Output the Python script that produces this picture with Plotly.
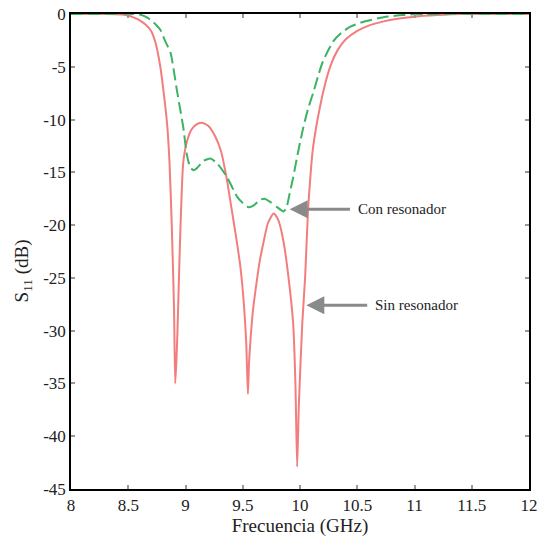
import plotly.graph_objects as go

# Sin resonador (red, solid)
red_f = [8.0, 8.3, 8.45, 8.5, 8.55, 8.6, 8.65, 8.7, 8.74, 8.78, 8.81, 8.84, 8.86, 8.88, 8.90, 8.91,
         8.92, 8.93, 8.95, 8.98, 9.01, 9.05, 9.09, 9.14, 9.2, 9.26, 9.31, 9.36, 9.40, 9.44, 9.48, 9.51,
         9.53, 9.545, 9.555, 9.57, 9.59, 9.62, 9.65, 9.68, 9.72, 9.77, 9.81, 9.855, 9.9, 9.94, 9.96,
         9.975, 9.99, 10.02, 10.045, 10.07, 10.09, 10.11, 10.14, 10.18, 10.22, 10.27, 10.33, 10.4,
         10.5, 10.6, 10.73, 10.85, 11.0, 11.2, 11.4, 12.0]
red_db = [0, 0, -0.05, -0.15, -0.35, -0.6, -1.0, -1.6, -2.8, -5.0, -7.5, -10.5, -14.0, -20.0, -28.0,
          -35.0, -33.0, -30.0, -22.3, -14.1, -12.2, -11.0, -10.5, -10.3, -10.6, -11.6, -13.0, -15.6,
          -18.3, -21.0, -24.0, -27.5, -31.0, -36.0, -33.0, -30.5, -28.0, -25.5, -23.3, -21.7, -19.8,
          -18.9, -19.5, -21.5, -25.0, -29.3, -35.0, -42.9, -37.0, -29.3, -24.9, -18.6, -15.5, -13.0,
          -10.8, -8.5, -6.6, -4.8, -3.4, -2.4, -1.6, -1.1, -0.7, -0.45, -0.25, -0.1, 0, 0]

# Con resonador (green, dashed)
green_f = [8.0, 8.55, 8.6, 8.65, 8.7, 8.74, 8.78, 8.82, 8.87, 8.92, 8.95, 8.98, 9.01, 9.04, 9.07, 9.1,
           9.16, 9.22, 9.28, 9.36, 9.45, 9.5, 9.55, 9.6, 9.65, 9.69, 9.74, 9.8, 9.855, 9.88, 9.91, 9.94,
           9.97, 10.0, 10.03, 10.07, 10.12, 10.16, 10.2, 10.29, 10.36, 10.44, 10.55, 10.73, 10.9, 11.1,
           12.0]
green_db = [0, 0, -0.05, -0.25, -0.6, -1.0, -1.5, -2.5, -3.7, -6.9, -8.8, -10.7, -13.2, -14.5, -14.8,
            -14.6, -13.9, -13.7, -14.2, -15.4, -17.3, -17.9, -18.3, -18.1, -17.6, -17.5, -17.8, -18.3,
            -18.7, -18.4, -17.0, -15.5, -13.8, -12.2, -10.7, -9.0, -7.3, -5.8, -4.5, -2.6, -1.8, -1.2,
            -0.75, -0.3, -0.1, 0, 0]

x_ticks = [8, 8.5, 9, 9.5, 10, 10.5, 11, 11.5, 12]
x_labels = ["8", "8.5", "9", "9.5", "10", "10.5", "11", "11.5", "12"]
y_ticks = [0, -5, -10, -15, -20, -25, -30, -35, -40, -45]
y_labels = ["0", "-5", "-10", "-15", "-20", "-25", "-30", "-35", "-40", "-45"]

font_family = "Liberation Serif"
text_color = "#222222"

fig = go.Figure()
fig.add_trace(go.Scatter(x=red_f, y=red_db, mode="lines", name="Sin resonador",
                         line=dict(color="rgb(243,125,125)", width=2, shape="spline", smoothing=0.6)))
fig.add_trace(go.Scatter(x=green_f, y=green_db, mode="lines", name="Con resonador",
                         line=dict(color="rgb(60,178,100)", width=2, dash="12px,5px",
                                   shape="spline", smoothing=0.6)))

axis_common = dict(showgrid=False, zeroline=False, showline=True, linecolor="black", linewidth=1.5,
                   mirror="ticks", ticks="inside", ticklen=4, tickcolor="#999999", tickwidth=1.5,
                   automargin=False, ticklabeloverflow="allow",
                   tickfont=dict(family=font_family, size=17, color=text_color))

fig.update_xaxes(range=[8, 12], tickvals=x_ticks, ticktext=x_labels,
                 title=dict(text="Frecuencia (GHz)", font=dict(family=font_family, size=19, color=text_color),
                            standoff=4),
                 **axis_common)
fig.update_yaxes(range=[-45, 0], tickvals=y_ticks, ticktext=y_labels, **axis_common)

# y-axis title (placed slightly below the vertical centre, as in the reference)
fig.add_annotation(xref="paper", x=-0.105, yref="y", y=-24.3, text="S<sub>11</sub> (dB)",
                   textangle=-90, showarrow=False, xanchor="center", yanchor="middle",
                   font=dict(family=font_family, size=19, color=text_color))

# arrows
fig.add_annotation(x=9.91, y=-18.5, ax=10.45, ay=-18.5, axref="x", ayref="y", xref="x", yref="y",
                   text="", showarrow=True, arrowhead=2, arrowsize=1.2, arrowwidth=3, arrowcolor="#8a8a8a")
fig.add_annotation(x=10.055, y=-27.6, ax=10.6, ay=-27.6, axref="x", ayref="y", xref="x", yref="y",
                   text="", showarrow=True, arrowhead=2, arrowsize=1.2, arrowwidth=3, arrowcolor="#8a8a8a")
fig.add_annotation(x=10.49, y=-18.5, text="Con resonador", showarrow=False, xanchor="left",
                   font=dict(family=font_family, size=15, color=text_color))
fig.add_annotation(x=10.64, y=-27.6, text="Sin resonador", showarrow=False, xanchor="left",
                   font=dict(family=font_family, size=15, color=text_color))

fig.update_layout(width=543, height=543, showlegend=False,
                  margin=dict(l=71, r=14, t=14, b=54, autoexpand=False),
                  plot_bgcolor="white", paper_bgcolor="white")

# remove the default 8px page margin so the figure fills the 543px window exactly
fig.write_html("out.html", config={"displayModeBar": False},
               post_script="document.body.style.margin='0';")
